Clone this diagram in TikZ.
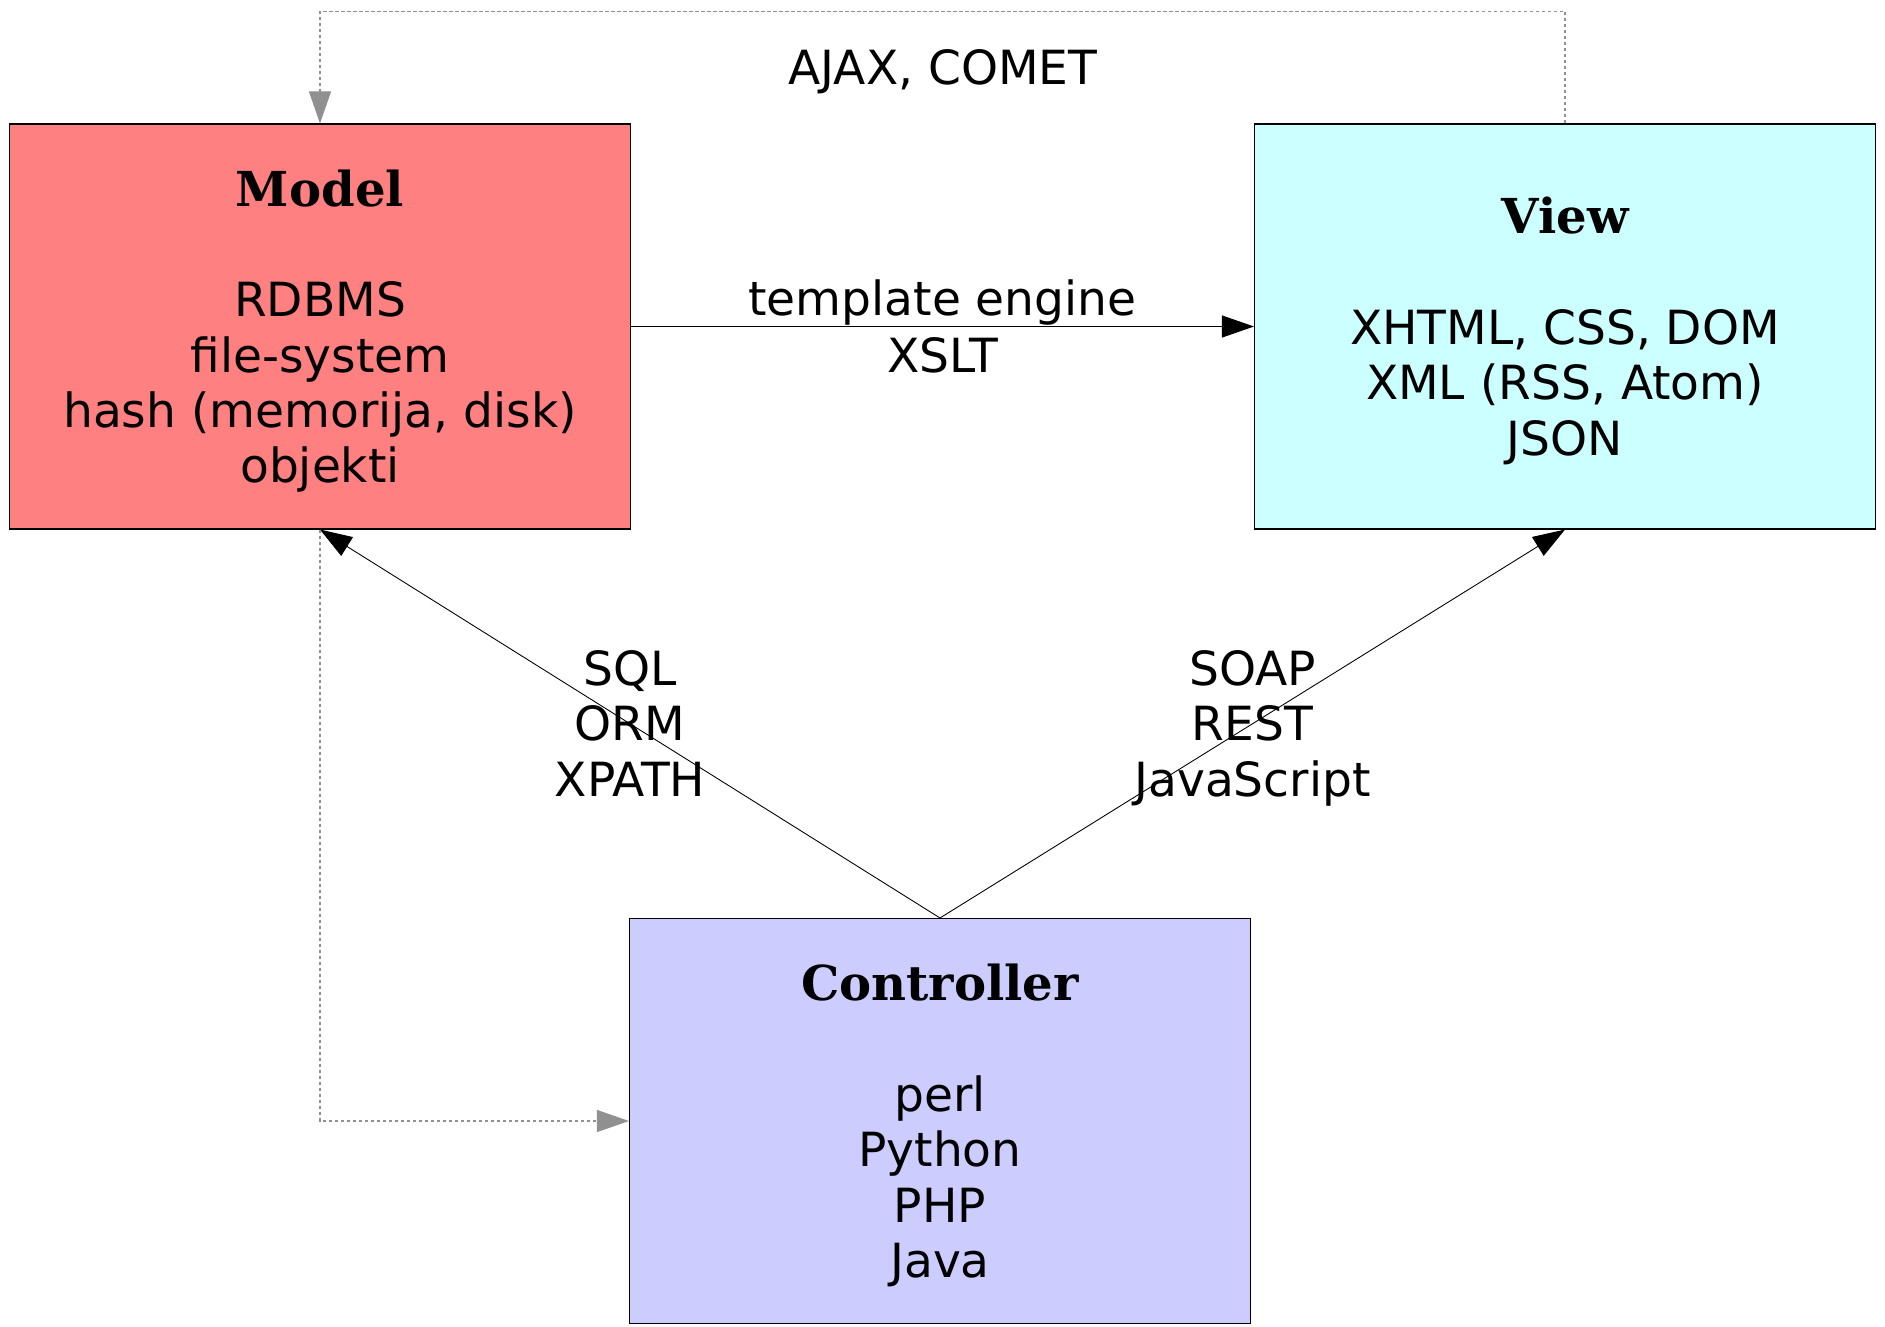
\documentclass[tikz,border=0pt]{standalone}
\usepackage{fontspec}
\setmainfont{DejaVu Sans}
\newfontfamily\titlefont{DejaVu Serif}
\usepackage{xcolor}
\definecolor{mred}{HTML}{FF8080}
\definecolor{mcyan}{HTML}{CCFFFF}
\definecolor{mviolet}{HTML}{CCCCFF}
\definecolor{mgray}{HTML}{909090}
\usepackage{tikz}
\usetikzlibrary{arrows.meta}
\newcommand{\boxtitle}[1]{\rule{0pt}{26pt}{\titlefont\bfseries\fontsize{27.4}{31.5}\selectfont #1}}

\begin{document}
\begin{tikzpicture}[
    box/.style={draw=black, line width=0.6pt, minimum width=12.42cm, minimum height=8.1cm,
                inner sep=0pt, align=center},
    arr/.style={line width=0.5pt, -{Triangle[length=0.64cm, width=0.44cm]}},
    dotline/.style={mgray, line width=0.6pt, dash pattern=on 0.07cm off 0.05cm,
                    -{Triangle[length=0.64cm, width=0.44cm]}},
    lbl/.style={align=center, inner sep=0pt, yshift=-0.16cm,
                execute at begin node=\strut, execute at end node=\strut}
  ]
            % Define parameters
            \def\gap{31.5pt}   % empty line under the titles
            \fontsize{26.8}{31.5}\selectfont

            % Fix the size of the page
            \useasboundingbox (0,0) rectangle (37.7,-26.52);

            % Draw the three boxes
            \node[box, fill=mred] (model) at (6.40,-6.53)
              {\boxtitle{Model}\\[\gap] RDBMS\\ file-system\\ hash (memorija, disk)\\ objekti};
            \node[box, fill=mcyan] (view) at (31.30,-6.53)
              {\boxtitle{View}\\[\gap] XHTML, CSS, DOM\\ XML (RSS, Atom)\\ JSON};
            \node[box, fill=mviolet] (controller) at (18.80,-22.42)
              {\boxtitle{Controller}\\[\gap] perl\\ Python\\ PHP\\ Java};

            % Draw the arrows between the boxes
            \draw[arr] (model.east) -- node[lbl, midway] {template engine\\[0.04cm] XSLT} (view.west);
            \draw[arr] (controller.north) -- node[lbl, midway] {SQL\\ ORM\\ XPATH} (model.south);
            \draw[arr] (controller.north) -- node[lbl, midway] {SOAP\\ REST\\ JavaScript} (view.south);

            % Draw the dotted loops
            \draw[dotline] (view.north) -- ++(0,2.24) -| (model.north);
            \draw[dotline] (model.south) |- (controller.west);

            % Label the top loop
            \node (ajax) at (18.86,-1.43) {AJAX, COMET};
\end{tikzpicture}
\end{document}
